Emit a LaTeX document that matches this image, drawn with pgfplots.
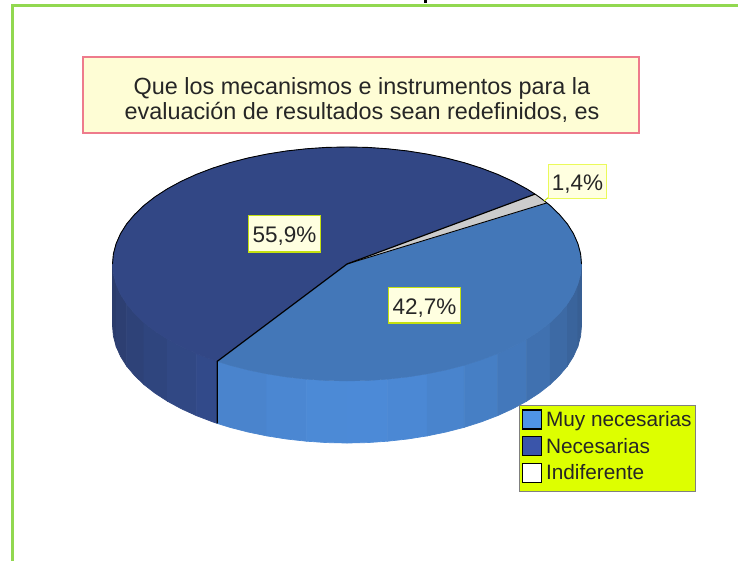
\documentclass[border=0pt]{standalone}
\usepackage{pgfplots}
\pgfplotsset{compat=1.18}
\usepackage{fontspec}
\setmainfont{Liberation Sans}
\definecolor{frameg}{HTML}{92D850}
\definecolor{topblue}{HTML}{4377B8}
\definecolor{topdark}{HTML}{324785}
\definecolor{topgray}{HTML}{CCCCCC}
\definecolor{boxedge}{HTML}{C4E010}
\definecolor{boxedgeb}{HTML}{EBFA5A}
\definecolor{lab}{HTML}{FFFFE0}
\definecolor{titleedge}{HTML}{EE7B8C}
\definecolor{titlefill}{HTML}{FEFDD5}
\definecolor{legfill}{HTML}{DDFF00}
\definecolor{legedge}{HTML}{808080}
\definecolor{swa}{HTML}{4F94E6}
\definecolor{swb}{HTML}{3A55AA}
\definecolor{da}{HTML}{2B3C6C}\definecolor{db}{HTML}{2D3F72}\definecolor{dc}{HTML}{2E4278}
\definecolor{dd}{HTML}{2F457E}\definecolor{de}{HTML}{314884}\definecolor{df}{HTML}{324A8A}
\definecolor{ba}{HTML}{4A84CD}\definecolor{bb}{HTML}{4B87D2}\definecolor{bc}{HTML}{4C8AD6}
\definecolor{bd}{HTML}{4C8AD7}\definecolor{be}{HTML}{4B88D4}\definecolor{bf}{HTML}{4984CD}
\definecolor{bg}{HTML}{467FC5}\definecolor{bh}{HTML}{4378BB}\definecolor{bi}{HTML}{4071B0}
\definecolor{bj}{HTML}{3D6AA5}\definecolor{bk}{HTML}{3A649C}\definecolor{bl}{HTML}{385F94}
\pgfplotsset{wall/.style={fill=#1,draw=#1,line width=0.7pt,forget plot}}
\begin{document}
\begin{tikzpicture}
\begin{axis}[
  width=738pt,height=561pt,scale only axis,
  xmin=0,xmax=738,ymin=0,ymax=561,y dir=reverse,
  axis lines=none,xtick=\empty,ytick=\empty,
  legend cell align=left,
  legend style={at={(axis cs:519.5,405.5)},anchor=north west,fill=none,
    draw=none,line width=1.8pt,
    font=\fontsize{20.8}{22}\selectfont\color{black!85},
    row sep=6.6pt,inner xsep=1.5pt,inner ysep=3pt,
    nodes={inner sep=0.5pt}},
]
% frame and the cut-off mark above it
\addplot[frameg,line width=2.6pt,forget plot] coordinates {(12.5,561)(12.5,5.5)(738,5.5)};
\addplot[black,line width=3pt,forget plot] coordinates {(425,0)(425,3)};
% side wall strips: necesarias
\addplot[wall=da] coordinates {(112.5,264)(113.4,274.2)(116.1,284.3)(116.1,346.3)(113.4,336.2)(112.5,326)} --cycle;
\addplot[wall=db] coordinates {(116.1,284.3)(120.5,294.3)(126.6,304)(126.6,366)(120.5,356.3)(116.1,346.3)} --cycle;
\addplot[wall=dc] coordinates {(126.6,304)(134.5,313.4)(143.9,322.5)(143.9,384.5)(134.5,375.4)(126.6,366)} --cycle;
\addplot[wall=dd] coordinates {(143.9,322.5)(154.9,331.1)(167.4,339.2)(167.4,401.2)(154.9,393.1)(143.9,384.5)} --cycle;
\addplot[wall=de] coordinates {(167.4,339.2)(181.2,346.7)(196.3,353.6)(196.3,415.6)(181.2,408.7)(167.4,401.2)} --cycle;
\addplot[wall=df] coordinates {(196.3,353.6)(212.5,359.8)(217.2,361.4)(217.2,423.4)(212.5,421.8)(196.3,415.6)} --cycle;
% side wall strips: muy necesarias
\addplot[wall=ba] coordinates {(217.2,361.4)(229.7,365.3)(247.9,370)(266.8,373.9)(266.8,435.9)(247.9,432)(229.7,427.3)(217.2,423.4)} --cycle;
\addplot[wall=bb] coordinates {(266.8,373.9)(286.3,377)(306.3,379.2)(306.3,441.2)(286.3,439)(266.8,435.9)} --cycle;
\addplot[wall=bc] coordinates {(306.3,379.2)(326.6,380.6)(347,381)(347,443)(326.6,442.6)(306.3,441.2)} --cycle;
\addplot[wall=bd] coordinates {(347,381)(367.4,380.6)(387.7,379.2)(387.7,441.2)(367.4,442.6)(347,443)} --cycle;
\addplot[wall=be] coordinates {(387.7,379.2)(407.7,377)(427.2,373.9)(427.2,435.9)(407.7,439)(387.7,441.2)} --cycle;
\addplot[wall=bf] coordinates {(427.2,373.9)(446.1,370)(464.3,365.3)(464.3,427.3)(446.1,432)(427.2,435.9)} --cycle;
\addplot[wall=bg] coordinates {(464.3,365.3)(481.5,359.8)(497.7,353.6)(497.7,415.6)(481.5,421.8)(464.3,427.3)} --cycle;
\addplot[wall=bh] coordinates {(497.7,353.6)(512.8,346.7)(526.6,339.2)(526.6,401.2)(512.8,408.7)(497.7,415.6)} --cycle;
\addplot[wall=bi] coordinates {(526.6,339.2)(539.1,331.1)(550.1,322.5)(550.1,384.5)(539.1,393.1)(526.6,401.2)} --cycle;
\addplot[wall=bj] coordinates {(550.1,322.5)(559.5,313.4)(567.4,304)(567.4,366)(559.5,375.4)(550.1,384.5)} --cycle;
\addplot[wall=bk] coordinates {(567.4,304)(573.5,294.3)(577.9,284.3)(577.9,346.3)(573.5,356.3)(567.4,366)} --cycle;
\addplot[wall=bl] coordinates {(577.9,284.3)(580.6,274.2)(581.5,264)(581.5,326)(580.6,336.2)(577.9,346.3)} --cycle;
% top slices
\addplot[fill=topblue,draw=topblue,line width=0.3pt,forget plot] coordinates {(347,264)(217.2,361.4)(229.7,365.3)(247.9,370)(266.8,373.9)(286.3,377)(306.3,379.2)(326.6,380.6)(347,381)(367.4,380.6)(387.7,379.2)(407.7,377)(427.2,373.9)(446.1,370)(464.3,365.3)(481.5,359.8)(497.7,353.6)(512.8,346.7)(526.6,339.2)(539.1,331.1)(550.1,322.5)(559.5,313.4)(567.4,304)(573.5,294.3)(577.9,284.3)(580.6,274.2)(581.5,264)(580.6,253.8)(577.9,243.7)(573.5,233.7)(567.4,224)(559.5,214.6)(550.1,205.5)(546.9,202.9)} --cycle;
\addplot[fill=topdark,draw=topdark,line width=0.3pt,forget plot] coordinates {(347,264)(535,194.1)(526.6,188.8)(512.8,181.3)(497.7,174.4)(481.5,168.2)(464.3,162.7)(446.1,158)(427.2,154.1)(407.7,151)(387.7,148.8)(367.4,147.4)(347,147)(326.6,147.4)(306.3,148.8)(286.3,151)(266.8,154.1)(247.9,158)(229.7,162.7)(212.5,168.2)(196.3,174.4)(181.2,181.3)(167.4,188.8)(154.9,196.9)(143.9,205.5)(134.5,214.6)(126.6,224)(120.5,233.7)(116.1,243.7)(113.4,253.8)(112.5,264)(113.4,274.2)(116.1,284.3)(120.5,294.3)(126.6,304)(134.5,313.4)(143.9,322.5)(154.9,331.1)(167.4,339.2)(181.2,346.7)(196.3,353.6)(212.5,359.8)(217.2,361.4)} --cycle;
\addplot[fill=topgray,draw=topgray,line width=0.3pt,forget plot] coordinates {(347,264)(546.9,202.9)(539.1,196.9)(535,194.1)} --cycle;
% outlines
\addplot[black,line width=0.9pt,forget plot] coordinates {(581.5,264)(580.6,253.8)(577.9,243.7)(573.5,233.7)(567.4,224)(559.5,214.6)(550.1,205.5)(546.9,202.9)(539.1,196.9)(535,194.1)(526.6,188.8)(512.8,181.3)(497.7,174.4)(481.5,168.2)(464.3,162.7)(446.1,158)(427.2,154.1)(407.7,151)(387.7,148.8)(367.4,147.4)(347,147)(326.6,147.4)(306.3,148.8)(286.3,151)(266.8,154.1)(247.9,158)(229.7,162.7)(212.5,168.2)(196.3,174.4)(181.2,181.3)(167.4,188.8)(154.9,196.9)(143.9,205.5)(134.5,214.6)(126.6,224)(120.5,233.7)(116.1,243.7)(113.4,253.8)(112.5,264)};
\addplot[black,line width=1.2pt,forget plot] coordinates {(535,194.1)(347,264)(217.2,361.4)(217.2,423.4)};
\addplot[black,line width=0.9pt,forget plot] coordinates {(347,264)(546.9,202.9)};
\addplot[boxedge,line width=1pt,forget plot] coordinates {(544,201)(549,197)};
% legend
\pgfplotsset{swatch/.style={legend image code/.code={\draw[fill=#1,draw=black,line width=1.2pt] (0pt,-9.5pt) rectangle (19pt,9.5pt);\path[draw=none,fill=none] (0pt,0pt) -- (23pt,0pt);}}}
\addlegendimage{swatch=swa}
\addlegendentry{Muy necesarias}
\addlegendimage{swatch=swb}
\addlegendentry{Necesarias}
\addlegendimage{swatch=white}
\addlegendentry{Indiferente}
\draw[draw=legedge,line width=1.8pt,fill=legfill] (axis cs:519.5,405.5) rectangle (axis cs:695.5,491.5);
% title and labels
\draw[draw=titleedge,line width=2pt,fill=titlefill] (axis cs:83,57) rectangle (axis cs:639,133);
\node[align=center,inner sep=0pt,text=black!85,font=\fontsize{23.4}{24.8}\selectfont] at (axis cs:362,100) {Que los mecanismos e instrumentos para la\\evaluación de resultados sean redefinidos, es};
\draw[draw=boxedge,line width=1.5pt,fill=lab] (axis cs:248.5,215.5) rectangle (axis cs:320.5,252);
\node[inner sep=0pt,text=black!85,font=\fontsize{22.5}{25}\selectfont] at (axis cs:284.5,236.5) {55,9\%};
\draw[draw=boxedge,line width=1.5pt,fill=lab] (axis cs:388.5,287.5) rectangle (axis cs:460.5,323);
\node[inner sep=0pt,text=black!85,font=\fontsize{22.5}{25}\selectfont] at (axis cs:424.5,308.5) {42,7\%};
\draw[draw=boxedgeb,line width=1.5pt,fill=lab] (axis cs:548.5,164.5) rectangle (axis cs:606.5,198.5);
\node[inner sep=0pt,text=black!85,font=\fontsize{22.5}{25}\selectfont] at (axis cs:577.5,184) {1,4\%};
\end{axis}
\pgfresetboundingbox
\useasboundingbox (current axis.south west) rectangle (current axis.north east);
\end{tikzpicture}
\end{document}
